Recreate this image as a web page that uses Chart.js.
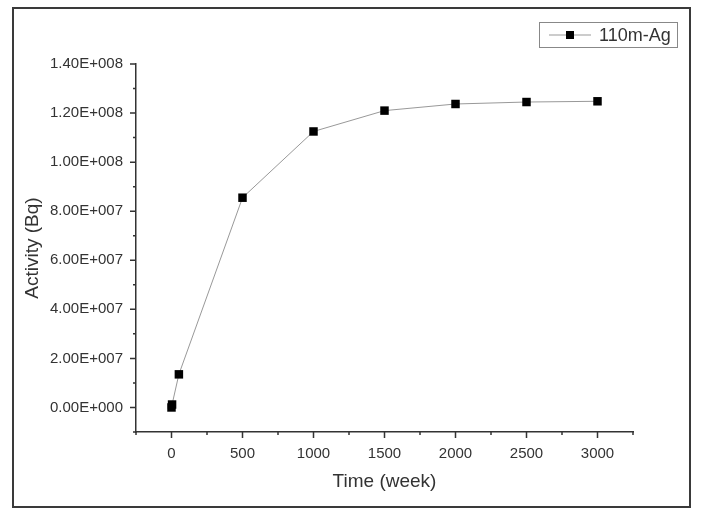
<!DOCTYPE html>
<html>
<head>
<meta charset="utf-8">
<script src="https://cdn.jsdelivr.net/npm/chart.js@4/dist/chart.umd.min.js"></script>
<style>
    body { margin: 0; background: #fff; }
    #wrap { width: 701px; height: 513px; }
</style>
</head>
<body>
<div id="wrap"><canvas id="myChart" width="701" height="513"></canvas></div>
<script>
// data
let times = [0, 4, 52, 500, 1000, 1500, 2000, 2500, 3000];
let activity = [0, 1.2e6, 1.35e7, 8.55e7, 1.125e8, 1.21e8, 1.237e8, 1.245e8, 1.248e8];
let xTicks = [0, 500, 1000, 1500, 2000, 2500, 3000];
let yTicks = [0, 2e7, 4e7, 6e7, 8e7, 1e8, 1.2e8, 1.4e8];
let seriesName = '110m-Ag';

const FONT = "'Liberation Sans', Arial, sans-serif";

// Origin style labels: 1.40E+008
function sciLabel(v) {
    let parts = v.toExponential(2).split('e');
    let exp = parseInt(parts[1]);
    return parts[0] + 'E' + (exp < 0 ? '-' : '+') + String(Math.abs(exp)).padStart(3, '0');
}

// outer frame round the whole figure
const framePlugin = {
    id: 'frame',
    beforeDraw(chart) {
        const ctx = chart.ctx;
        ctx.save();
        ctx.fillStyle = '#fff';
        ctx.fillRect(0, 0, chart.width, chart.height);
        ctx.strokeStyle = '#3a3a3a';
        ctx.lineWidth = 2;
        ctx.strokeRect(13, 8, 677, 499);
        ctx.restore();
    }
};

// outward major and minor ticks on both axes
const tickPlugin = {
    id: 'ticks',
    afterDraw(chart) {
        const ctx = chart.ctx;
        const x = chart.scales.x;
        const y = chart.scales.y;
        ctx.save();
        ctx.strokeStyle = '#333';
        ctx.lineWidth = 1.5;
        ctx.beginPath();
        for (let v = x.min; v <= x.max; v += 250) {
            const px = x.getPixelForValue(v);
            const len = (v % 500 === 0) ? 6 : 3;
            ctx.moveTo(px, x.top);
            ctx.lineTo(px, x.top + len);
        }
        for (let v = y.min; v <= y.max; v += 1e7) {
            const py = y.getPixelForValue(v);
            const len = (Math.round(v / 1e7) % 2 === 0) ? 6 : 3;
            ctx.moveTo(y.right, py);
            ctx.lineTo(y.right - len, py);
        }
        ctx.stroke();
        ctx.restore();
    }
};

// boxed legend at top right
const legendPlugin = {
    id: 'boxLegend',
    afterDraw(chart) {
        const ctx = chart.ctx;
        ctx.save();
        ctx.strokeStyle = '#888';
        ctx.lineWidth = 1;
        ctx.strokeRect(539.5, 22.5, 138, 25);
        ctx.strokeStyle = '#999';
        ctx.beginPath();
        ctx.moveTo(549, 35);
        ctx.lineTo(591, 35);
        ctx.stroke();
        ctx.fillStyle = '#000';
        ctx.fillRect(566, 31, 8, 8);
        ctx.fillStyle = '#333';
        ctx.font = '18px ' + FONT;
        ctx.textBaseline = 'middle';
        ctx.fillText(seriesName, 599, 36);
        ctx.restore();
    }
};

const ctx = document.getElementById('myChart').getContext('2d');
new Chart(ctx, {
    type: 'scatter',
    data: {
        datasets: [{
            label: seriesName,
            data: times.map((t, i) => ({ x: t, y: activity[i] })),
            showLine: true,
            borderColor: '#999',
            borderWidth: 1,
            pointStyle: 'rect',
            pointRadius: 6,
            pointBackgroundColor: '#000',
            pointBorderColor: '#000',
            pointBorderWidth: 0
        }]
    },
    options: {
        responsive: false,
        animation: false,
        layout: {
            padding: { left: 0, top: 64, right: 68, bottom: 0 }
        },
        plugins: {
            legend: { display: false },
            tooltip: { enabled: false }
        },
        scales: {
            x: {
                type: 'linear',
                min: -250,
                max: 3250,
                afterBuildTicks: scale => { scale.ticks = xTicks.map(v => ({ value: v })); },
                afterFit: scale => { scale.height = 81; },
                grid: { display: false },
                border: { display: true, color: '#333', width: 1.5 },
                ticks: {
                    color: '#333',
                    padding: 5,
                    font: { family: FONT, size: 15 },
                    callback: v => String(v)
                },
                title: {
                    display: true,
                    text: 'Time (week)',
                    color: '#333',
                    font: { family: FONT, size: 19 },
                    padding: { top: 0, bottom: 20 }
                }
            },
            y: {
                min: -1e7,
                max: 1.4e8,
                afterBuildTicks: scale => { scale.ticks = yTicks.map(v => ({ value: v })); },
                afterFit: scale => { scale.width = 136; },
                grid: { display: false },
                border: { display: true, color: '#333', width: 1.5 },
                ticks: {
                    color: '#333',
                    padding: 5,
                    font: { family: FONT, size: 15 },
                    callback: v => sciLabel(v)
                },
                title: {
                    display: true,
                    text: 'Activity (Bq)',
                    color: '#333',
                    font: { family: FONT, size: 19 },
                    padding: { top: 21, bottom: 0 }
                }
            }
        }
    },
    plugins: [framePlugin, tickPlugin, legendPlugin]
});
</script>
</body>
</html>
